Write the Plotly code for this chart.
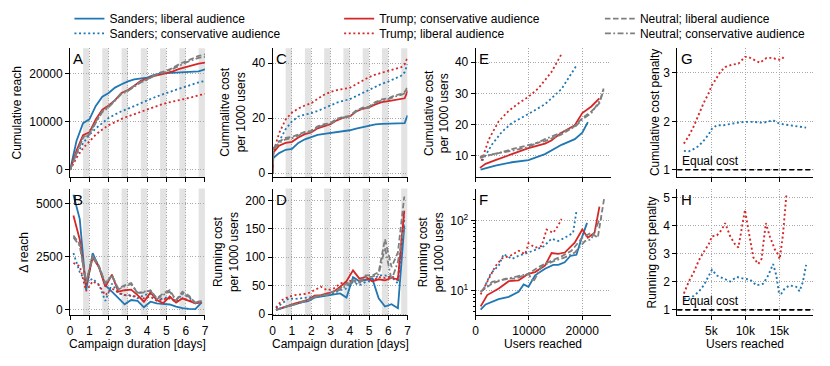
import plotly.graph_objects as go
from plotly.subplots import make_subplots

# ---------------- data ----------------
# A: cumulative reach over campaign time (days)
t_reach = [0, 0.33, 0.67, 1.0, 1.33, 1.67, 2.0, 2.33, 2.67, 3.0, 3.33, 3.67,
           4.0, 4.33, 4.67, 5.0, 5.33, 5.67, 6.0, 6.33, 6.67, 7.0]
reach = {
    's_lib': [0, 6000, 9700, 10500, 13300, 15200, 16000, 17100, 17800, 18400, 18800, 19000,
              19200, 19700, 20000, 20100, 20200, 20300, 20300, 20400, 20500, 20900],
    's_con': [0, 3200, 5500, 7300, 8600, 9800, 10800, 11500, 12200, 12700, 13300, 13900,
              14500, 15000, 15500, 16000, 16400, 16900, 17300, 17800, 18200, 18500],
    't_con': [0, 4000, 7200, 7800, 10500, 12500, 13400, 14500, 16000, 16600, 17500, 18500,
              19000, 19500, 19800, 20100, 20500, 21000, 21400, 21800, 22100, 22300],
    't_lib': [0, 2500, 4500, 6000, 7300, 8400, 9300, 9900, 10600, 11100, 11600, 12100,
              12500, 13000, 13500, 13900, 14200, 14500, 14700, 15100, 15500, 15800],
    'n_lib': [0, 3500, 6800, 7500, 10000, 12200, 13200, 14500, 16000, 16500, 17500, 18300,
              18800, 19600, 20200, 20600, 21200, 22000, 22600, 23200, 23700, 24000],
    'n_con': [0, 3500, 6600, 7300, 9800, 12000, 13000, 14300, 15800, 16400, 17300, 18200,
              18700, 19500, 20000, 20400, 21000, 21700, 22300, 22800, 23300, 23500],
}

# B / D: per-interval values (interval midpoints)
t_mid = [0.17, 0.5, 0.83, 1.17, 1.5, 1.83, 2.17, 2.5, 2.83, 3.17, 3.5, 3.83,
         4.17, 4.5, 4.83, 5.17, 5.5, 5.83, 6.17, 6.5, 6.83]
delta_reach = {
    's_lib': [5400, 4260, 920, 2660, 2000, 1150, 850, 540, 260, 460, 420, 120,
              380, 300, 260, 250, 150, 80, 50, 30, 350],
    's_con': [2660, 1770, 1300, 1460, 1180, 420, 1230, 770, 690, 690, 540, 690,
              770, 460, 540, 620, 380, 770, 570, 350, 420],
    't_con': [4430, 3300, 1150, 2460, 2000, 1080, 1650, 850, 920, 950, 690, 380,
              820, 460, 310, 620, 340, 540, 420, 310, 350],
    't_lib': [2200, 2050, 880, 1340, 1150, 690, 1000, 820, 690, 660, 620, 540,
              620, 420, 500, 540, 380, 540, 460, 310, 420],
    'n_lib': [3490, 3080, 1280, 2570, 2050, 1230, 1620, 1000, 1150, 1260, 770, 820,
              920, 540, 770, 920, 460, 850, 660, 310, 420],
    'n_con': [3400, 3000, 1300, 2500, 2000, 1250, 1600, 950, 1100, 1200, 800, 850,
              900, 500, 700, 850, 450, 750, 600, 350, 400],
}
run_cost = {
    's_lib': [7.5, 10.4, 13.3, 17.3, 20.8, 23, 29, 30.6, 32.4, 34.7, 36.4, 29,
              65, 57.8, 59.5, 62.4, 27.7, 13.3, 17.3, 10.4, 155],
    's_con': [10.4, 19, 27.7, 26.6, 27.7, 29, 30.6, 32.4, 33.5, 36.4, 42, 45,
              56.6, 50.9, 56.6, 59.5, 68, 68, 65.3, 53.8, 166],
    't_con': [7.5, 11.6, 15, 19, 22, 24.9, 32.4, 33.5, 36.4, 39.3, 48, 57.8,
              76.9, 62.4, 65.3, 57.8, 61.3, 59.5, 63.6, 61.3, 182],
    't_lib': [11.6, 24.9, 30.6, 33.5, 34.7, 36.4, 42, 48, 42, 45, 53.8, 56.6,
              59.5, 56.6, 62.4, 58, 65.3, 63.6, 67, 59.5, 181],
    'n_lib': [7.5, 11.6, 14.5, 17.3, 20.8, 24.3, 30.6, 32.4, 34.7, 40.5, 45, 53.8,
              59.5, 57.8, 68, 68, 74, 132, 82.7, 108.7, 207],
    'n_con': [7.5, 11.6, 14.5, 17.3, 20.8, 24.3, 30, 31.8, 34, 38.5, 43, 50,
              57, 55, 64, 66, 70, 117, 60, 92, 155],
}

# C: cumulative cost per 1000 users over time
t_cost = [0, 0.03, 0.33, 0.67, 1.0, 1.33, 1.67, 2.0, 2.33, 2.67, 3.0, 3.33,
          3.67, 4.0, 4.33, 4.67, 5.0, 5.33, 5.67, 6.0, 6.33, 6.67, 6.85, 7.0]
cum_cost = {
    's_lib': [0, 5.5, 7.3, 8.5, 8.8, 11.0, 12.3, 13.0, 13.9, 14.3, 14.6, 15.0,
              15.2, 15.6, 16.2, 16.8, 17.2, 17.7, 17.9, 18.0, 18.0, 18.0, 18.2, 21.0],
    's_con': [0, 7.0, 11.5, 16.0, 18.8, 20.6, 21.3, 21.8, 22.6, 23.6, 24.8, 25.6,
              26.3, 26.9, 28.0, 29.2, 30.1, 31.3, 32.5, 33.3, 34.4, 35.4, 36.7, 39.6],
    't_con': [0, 7.5, 10.0, 11.0, 11.4, 13.0, 14.2, 14.8, 16.3, 17.2, 17.8, 19.2,
              20.2, 20.6, 22.4, 23.4, 23.9, 25.0, 25.8, 26.2, 26.6, 26.9, 27.2, 29.8],
    't_lib': [0, 7.5, 14.5, 19.5, 22.0, 23.5, 24.6, 25.4, 27.0, 28.5, 29.5, 30.2,
              30.6, 31.0, 32.3, 33.6, 34.9, 35.8, 36.5, 37.0, 37.8, 38.5, 39.5, 42.0],
    'n_lib': [0, 9.0, 11.5, 12.8, 13.2, 14.2, 15.0, 15.4, 17.0, 17.8, 18.2, 19.8,
              20.5, 20.8, 22.8, 23.8, 24.2, 25.8, 26.8, 27.2, 28.2, 28.8, 29.5, 31.3],
    'n_con': [0, 8.5, 11.0, 12.3, 12.7, 13.8, 14.7, 15.1, 16.7, 17.5, 17.9, 19.5,
              20.2, 20.5, 22.5, 23.5, 23.9, 25.5, 26.5, 26.9, 27.8, 28.4, 29.0, 30.5],
}

# E: cumulative cost vs users reached
e_users = {
    's_lib': [930, 3700, 6800, 9900, 13000, 16100, 18600, 20000, 21050],
    's_con': [1240, 3100, 4950, 6800, 9900, 13000, 16100, 18900],
    't_con': [800, 1860, 3700, 6800, 9900, 13000, 14200, 16100, 18600, 20000, 21700, 23200],
    't_lib': [1100, 2480, 4300, 6200, 8050, 9900, 11750, 14200, 16100],
    'n_lib': [800, 3700, 6800, 9900, 13000, 16100, 18600, 20000, 21700, 23200, 24000],
    'n_con': [800, 3700, 6800, 9900, 13000, 16100, 18600, 20000, 21700, 23400, 24000],
}
e_cost = {
    's_lib': [5.5, 6.8, 7.9, 8.6, 10.5, 13.5, 15.3, 17.4, 20.8],
    's_con': [8.4, 13.7, 17.7, 20.5, 23.4, 26.5, 31.4, 38.9],
    't_con': [6.1, 7.4, 8.6, 10.5, 12.4, 13.9, 14.9, 17.4, 19.8, 23.7, 25.8, 28.4],
    't_lib': [8.4, 15.3, 21.0, 24.4, 26.8, 28.9, 31.6, 36.8, 42.6],
    'n_lib': [9.7, 10.5, 12.1, 13.5, 14.7, 16.8, 19.5, 22.1, 24.2, 26.8, 31.6],
    'n_con': [9.3, 10.7, 11.6, 12.8, 15.3, 17.4, 19.2, 21.6, 23.7, 27.9, 31.0],
}

# F: running cost vs users reached (log axis)
f_users = {
    's_lib': [930, 1860, 4300, 6200, 8050, 9000, 9900, 11150, 13000, 14550, 15500,
              16700, 17800, 18900, 19800, 20900],
    's_con': [1550, 2790, 4330, 5260, 6800, 8050, 9900, 11450, 12700, 14240, 15480,
              16720, 18270, 18900],
    't_con': [930, 2170, 4330, 6200, 8050, 9900, 11150, 13000, 14240, 15480, 16720,
              18580, 20000, 21050, 22300, 23220],
    't_lib': [930, 2170, 3700, 4950, 6500, 8050, 9290, 9900, 11150, 12380, 13300,
              14550, 15480, 16100],
    'n_lib': [930, 3100, 5570, 7430, 9900, 11760, 14240, 16100, 17960, 20000, 21670,
              22910, 24150],
    'n_con': [930, 3100, 5570, 7430, 9900, 10800, 12380, 14860, 16720, 18580, 20500,
              21670, 23220, 23900],
}
f_cost = {
    's_lib': [5.4, 6.4, 7.6, 8.2, 9.7, 12.3, 11.4, 16.6, 20.6, 23.4, 23.4,
              25.5, 31.6, 32.6, 54, 93],
    's_con': [10.8, 17.5, 22.9, 33.4, 28.4, 31.6, 35.1, 39.2, 42.7, 55.4, 51.3,
              57.1, 67, 135],
    't_con': [6.0, 8.7, 10.8, 13.7, 14.1, 17.5, 18.5, 22.9, 34.5, 33.5, 35.1,
              48.6, 74.6, 57.1, 67, 158],
    't_lib': [8.9, 13.7, 22.4, 29, 31.6, 37.2, 33.3, 47.6, 41.3, 43.6, 74.6,
              67, 85, 106],
    'n_lib': [9.7, 12.7, 14.9, 14.9, 17.5, 21.7, 26.9, 31, 37.2, 57, 67, 57, 219],
    'n_con': [9.7, 13.4, 14.6, 15.7, 17.5, 13.4, 22.4, 26.9, 29.9, 35, 51,
              53.9, 103, 109],
}

# G: cumulative cost penalty
g_users_red = [970, 1700, 2430, 3150, 3880, 4610, 5100, 5580, 6310, 7040, 8010, 8980,
               9950, 10440, 11170, 12140, 13110, 14080, 14560, 15290, 15780]
g_pen_red = [1.54, 1.70, 1.90, 2.14, 2.38, 2.58, 2.75, 2.85, 3.02, 3.12, 3.17, 3.19,
             3.33, 3.33, 3.28, 3.21, 3.31, 3.31, 3.28, 3.27, 3.35]
g_users_blue = [970, 1700, 2430, 3150, 3880, 4610, 5100, 5830, 6800, 7770, 8740, 9950,
                11170, 12620, 14080, 14800, 15530, 16500, 17720, 18930]
g_pen_blue = [1.39, 1.38, 1.43, 1.49, 1.60, 1.73, 1.85, 1.92, 1.92, 1.95, 1.97, 1.99,
              1.99, 1.97, 2.02, 1.97, 1.94, 1.92, 1.90, 1.87]

# H: running cost penalty
h_users_red = [970, 1700, 2430, 3150, 3880, 4610, 5100, 5830, 6550, 7040, 7770, 8500,
               8980, 9470, 9950, 10440, 11170, 11890, 12380, 13010, 13590, 14320,
               14800, 15050, 15530, 16020]
h_pen_red = [1.58, 2.01, 2.34, 2.75, 3.06, 3.33, 3.62, 3.65, 3.86, 4.09, 3.62, 3.33,
             3.22, 3.86, 4.56, 3.86, 2.87, 2.63, 2.81, 4.09, 3.62, 3.16,
             2.98, 2.81, 3.68, 5.08]
h_users_blue = [970, 1700, 2430, 3150, 3880, 4610, 5100, 5830, 6800, 7770, 8740, 9710,
                10680, 11650, 12620, 13350, 14080, 14560, 14950, 15290, 15780, 16500,
                17480, 17960, 18450, 18930]
h_pen_blue = [1.41, 1.38, 1.50, 1.64, 1.87, 2.22, 2.43, 2.22, 2.11, 2.01, 2.17, 2.11,
              2.08, 1.87, 1.93, 2.22, 2.63, 2.22, 1.58, 1.58, 1.76, 1.87,
              1.82, 1.66, 1.99, 2.60]

# ---------------- styling ----------------
BLUE, RED, GRAY = '#1f77b4', '#d62728', '#7f7f7f'
DOT = '2px,2.6px'
DASH = '5.5px,2.6px'
DASHDOT = '6px,2.4px,1.8px,2.4px'
H = 366
FONT = 'Arial, Liberation Sans, sans-serif'

series = [
    # key, label, colour, dash, legend id
    ('s_lib', 'Sanders; liberal audience', BLUE, 'solid', 'legend'),
    ('s_con', 'Sanders; conservative audience', BLUE, DOT, 'legend2'),
    ('t_con', 'Trump; conservative audience', RED, 'solid', 'legend3'),
    ('t_lib', 'Trump; liberal audience', RED, DOT, 'legend4'),
    ('n_lib', 'Neutral; liberal audience', GRAY, DASH, 'legend5'),
    ('n_con', 'Neutral; conservative audience', GRAY, DASHDOT, 'legend6'),
]

fig = make_subplots(rows=2, cols=4)

for key, label, color, dash, leg in series:
    line = dict(color=color, width=1.8, dash=dash)
    fig.add_trace(go.Scatter(x=t_reach, y=reach[key], mode='lines', line=line,
                             name=label, legend=leg, showlegend=True), row=1, col=1)
    fig.add_trace(go.Scatter(x=t_mid, y=delta_reach[key], mode='lines', line=line,
                             showlegend=False), row=2, col=1)
    fig.add_trace(go.Scatter(x=t_cost, y=cum_cost[key], mode='lines', line=line,
                             showlegend=False), row=1, col=2)
    fig.add_trace(go.Scatter(x=t_mid, y=run_cost[key], mode='lines', line=line,
                             showlegend=False), row=2, col=2)
    fig.add_trace(go.Scatter(x=e_users[key], y=e_cost[key], mode='lines', line=line,
                             showlegend=False), row=1, col=3)
    fig.add_trace(go.Scatter(x=f_users[key], y=f_cost[key], mode='lines', line=line,
                             showlegend=False), row=2, col=3)

pen_line_red = dict(color=RED, width=1.9, dash=DOT)
pen_line_blue = dict(color=BLUE, width=1.9, dash=DOT)
fig.add_trace(go.Scatter(x=g_users_red, y=g_pen_red, mode='lines', line=pen_line_red,
                         showlegend=False), row=1, col=4)
fig.add_trace(go.Scatter(x=g_users_blue, y=g_pen_blue, mode='lines', line=pen_line_blue,
                         showlegend=False), row=1, col=4)
fig.add_trace(go.Scatter(x=h_users_red, y=h_pen_red, mode='lines', line=pen_line_red,
                         showlegend=False), row=2, col=4)
fig.add_trace(go.Scatter(x=h_users_blue, y=h_pen_blue, mode='lines', line=pen_line_blue,
                         showlegend=False), row=2, col=4)

# axes: common look (left + bottom spines, fine dotted grid)
axis_style = dict(showline=True, linecolor='black', linewidth=1, ticks='outside', ticklen=4,
                  tickcolor='black', showgrid=True, gridcolor='#a8a8a8', griddash='1px,1.6px',
                  gridwidth=0.9, zeroline=False, tickformat='d',
                  tickfont=dict(size=12, color='black'))
fig.update_xaxes(**axis_style)
fig.update_yaxes(**axis_style)

col_px = [(67.7, 203.7), (272, 408), (476.7, 612.7), (680, 817.3)]
row_px = [(49, 180), (191.7, 320.7)]
for c, (x0, x1) in enumerate(col_px, start=1):
    for r, (y0, y1) in enumerate(row_px, start=1):
        fig.update_xaxes(domain=[x0 / 830, x1 / 830], row=r, col=c)
        fig.update_yaxes(domain=[1 - y1 / H, 1 - y0 / H], row=r, col=c)

day_ticks = [0, 1, 2, 3, 4, 5, 6, 7]
for r in (1, 2):
    for c in (1, 2):
        fig.update_xaxes(range=[0, 7], tickvals=day_ticks, showticklabels=(r == 2), row=r, col=c)
    fig.update_xaxes(range=[0, 25300], tickvals=[0, 10000, 20000],
                     showticklabels=(r == 2), row=r, col=3)
    fig.update_xaxes(range=[0, 20000], tickvals=[5000, 10000, 15000],
                     ticktext=['5k', '10k', '15k'], showticklabels=(r == 2), row=r, col=4)

fig.update_yaxes(range=[-1500, 25300], tickvals=[0, 10000, 20000], row=1, col=1)
fig.update_yaxes(range=[-263, 5692], tickvals=[0, 2500, 5000], row=2, col=1)
fig.update_yaxes(range=[-1.4, 45.4], tickvals=[0, 20, 40], row=1, col=2)
fig.update_yaxes(range=[-2.4, 221], tickvals=[0, 50, 100, 150, 200], row=2, col=2)
fig.update_yaxes(range=[3.15, 44.5], tickvals=[10, 20, 30, 40], row=1, col=3)
fig.update_yaxes(type='log', range=[0.649, 2.457], tickvals=[10, 100],
                 ticktext=['10<sup>1</sup>', '10<sup>2</sup>'],
                 minor=dict(tickvals=[5, 6, 7, 8, 9, 20, 30, 40, 50, 60, 70, 80, 90, 200],
                            ticks='outside', ticklen=2, tickcolor='black', showgrid=False),
                 row=2, col=3)
fig.update_yaxes(range=[0.85, 3.51], tickvals=[1, 2, 3], row=1, col=4)
fig.update_yaxes(range=[0.8, 5.32], tickvals=[1, 2, 3, 4, 5], row=2, col=4)

# night bands on the time panels
shapes = []
for xr, yr in [('x', 'y'), ('x5', 'y5'), ('x2', 'y2'), ('x6', 'y6')]:
    for d in range(7):
        shapes.append(dict(type='rect', xref=xr, yref=yr + ' domain', x0=d + 0.67, x1=d + 1.0,
                           y0=0, y1=1, fillcolor='#e3e3e3', line=dict(width=0), layer='below'))
# equal cost reference line
for xr, yr in [('x4', 'y4'), ('x8', 'y8')]:
    shapes.append(dict(type='line', xref=xr + ' domain', yref=yr, x0=0, x1=1, y0=1, y1=1,
                       line=dict(color='black', width=1.6, dash='5px,3px')))

annotations = []
panels = [('A', 'x', 'y'), ('C', 'x2', 'y2'), ('E', 'x3', 'y3'), ('G', 'x4', 'y4'),
          ('B', 'x5', 'y5'), ('D', 'x6', 'y6'), ('F', 'x7', 'y7'), ('H', 'x8', 'y8')]
for letter, xr, yr in panels:
    annotations.append(dict(text=letter, xref=xr + ' domain', yref=yr + ' domain', x=0.01, y=1.0,
                            xanchor='left', yanchor='top', showarrow=False,
                            font=dict(size=15, color='black')))
for xr, yr in [('x4', 'y4'), ('x8', 'y8')]:
    annotations.append(dict(text='Equal cost', xref=xr + ' domain', yref=yr, x=0.02, y=1,
                            xanchor='left', yanchor='bottom', showarrow=False,
                            font=dict(size=12, color='black')))

ytitles = [
    ('Cumulative reach', 14, row_px[0]),
    ('Δ reach', 21, row_px[1]),
    ('Cummalitve cost<br>per 1000 users', 232, row_px[0]),
    ('Running cost<br>per 1000 users', 225, row_px[1]),
    ('Cumulative cost<br>per 1000 users', 437, row_px[0]),
    ('Running cost<br>per 1000 users', 432, row_px[1]),
    ('Cumulative cost penalty', 657, row_px[0]),
    ('Running cost penalty', 655, row_px[1]),
]
for text, xc, (y0, y1) in ytitles:
    annotations.append(dict(text=text, xref='paper', yref='paper', x=xc / 830,
                            y=1 - (y0 + y1) / 2 / H, xanchor='center', yanchor='middle',
                            textangle=-90, showarrow=False, font=dict(size=12, color='black')))

xtitles = [('Campaign duration [days]', 0), ('Campaign duration [days]', 1),
           ('Users reached', 2), ('Users reached', 3)]
for text, ci in xtitles:
    x0, x1 = col_px[ci]
    annotations.append(dict(text=text, xref='paper', yref='paper', x=(x0 + x1) / 2 / 830,
                            y=1 - 350 / H, xanchor='center', yanchor='middle',
                            showarrow=False, font=dict(size=12, color='black')))

# legends: one per entry, arranged as 3 columns x 2 rows
legend_pos = {
    'legend': (107, 19), 'legend2': (107, 34),
    'legend3': (379, 19), 'legend4': (379, 34),
    'legend5': (642, 19), 'legend6': (642, 34),
}
legends = {}
for name, (xt, yc) in legend_pos.items():
    legends[name] = dict(x=(xt - 40) / 830, y=1 - yc / H, xanchor='left', yanchor='middle',
                         bgcolor='rgba(0,0,0,0)', borderwidth=0,
                         font=dict(size=12, color='black', family=FONT))

fig.update_layout(
    width=830, height=H,
    margin=dict(l=0, r=0, t=0, b=0),
    plot_bgcolor='white', paper_bgcolor='white',
    font=dict(family=FONT, size=12, color='black'),
    shapes=shapes, annotations=annotations,
    **legends,
)

# drop the default page margin so figure pixels line up with the window
fig.write_html("out.html", config={'displayModeBar': False},
               post_script="document.body.style.margin='0px';document.body.style.overflow='hidden';")
